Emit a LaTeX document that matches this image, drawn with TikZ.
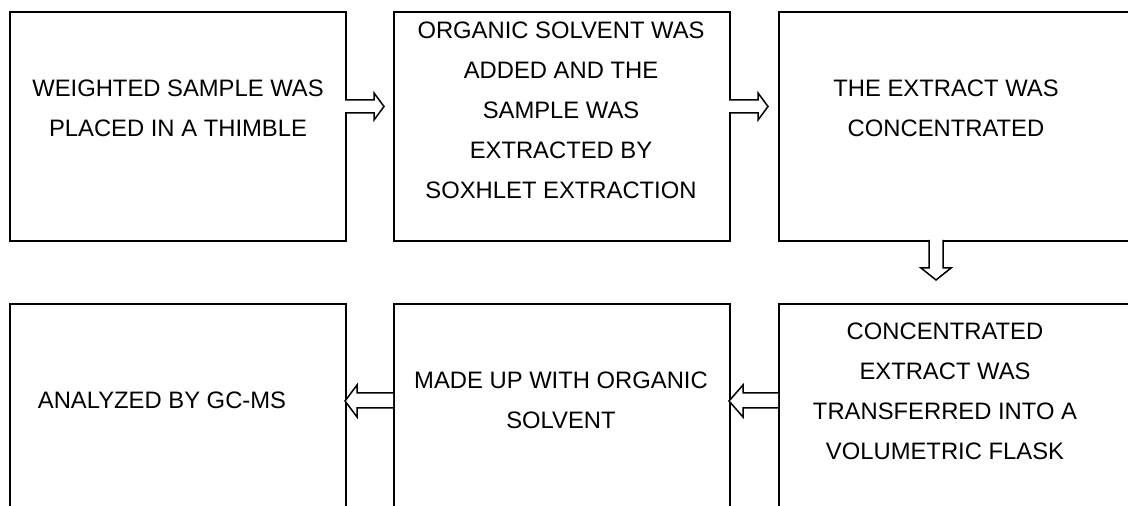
\documentclass[tikz,border=0pt]{standalone}
\usepackage{fontspec}
\setmainfont{Liberation Sans}
\begin{document}
\begin{tikzpicture}[x=0.5pt,y=-0.5pt,
  box/.style={draw=black,line width=1pt,rectangle,minimum width=168pt,minimum height=114.5pt,anchor=north west,inner sep=0pt},
  widebox/.style={box,minimum width=190pt},
  txt/.style={align=center,inner sep=0pt,font=\fontsize{11.9}{20}\selectfont},
  blockarrow/.style={draw=black,line width=0.75pt,fill=white,line join=miter}]
\useasboundingbox (0,0) rectangle (1128,506);
\clip (0,0) rectangle (1128,506);
\node[box] (b1) at (9,11) {};
\node[box] (b2) at (393,11) {};
\node[widebox] (b3) at (778,11) {};
\node[box] (b4) at (9,303) {};
\node[box] (b5) at (393,303) {};
\node[widebox] (b6) at (778,303) {};
\node[txt] (t1) at (178,108) {WEIGHTED SAMPLE WAS\\PLACED IN A THIMBLE};
\node[txt] (t2) at (561,110) {ORGANIC SOLVENT WAS\\ADDED AND THE\\SAMPLE WAS\\EXTRACTED BY\\SOXHLET EXTRACTION};
\node[txt] (t3) at (946,108) {THE EXTRACT WAS\\CONCENTRATED};
\node[txt] (t4) at (162,400) {ANALYZED BY GC-MS};
\node[txt] (t5) at (561,400) {MADE UP WITH ORGANIC\\SOLVENT};
\node[txt] (t6) at (945,391) {CONCENTRATED\\EXTRACT WAS\\TRANSFERRED INTO A\\VOLUMETRIC FLASK};
% right arrows
\draw[blockarrow] (345,100) -- (374,100) -- (374,93) -- (384,106.5) -- (374,120) -- (374,113) -- (345,113);
\draw[blockarrow] (729,100) -- (758,100) -- (758,93) -- (768,106.5) -- (758,120) -- (758,113) -- (729,113);
% down arrow
\draw[blockarrow] (929,240) -- (929,268) -- (921,268) -- (936,280) -- (951,268) -- (943,268) -- (943,240);
% left arrows
\draw[blockarrow] (778,393) -- (743,393) -- (743,385) -- (729,401) -- (743,417) -- (743,408) -- (778,408);
\draw[blockarrow] (393,393) -- (357,393) -- (357,385) -- (345,401) -- (357,417) -- (357,408) -- (393,408);
\end{tikzpicture}
\end{document}
